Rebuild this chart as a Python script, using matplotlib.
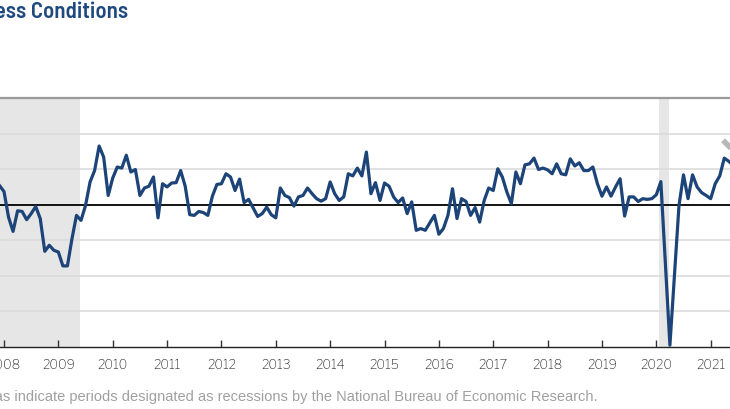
import numpy as np
import pandas as pd
import matplotlib
matplotlib.use("Agg")
import matplotlib.pyplot as plt

plt.rcParams['font.family'] = ['Liberation Sans', 'DejaVu Sans']

# monthly index, Dec 2007 .. Jun 2021
start_month = '2007-12-01'
values = [
    5.4, 3.7, -3.5, -7.5, -1.7, -1.9, -4.2, -2.5, -0.5, -3.9,
    -13.1, -11.4, -12.8, -13.3, -17.2, -17.2, -9.6, -3.0, -4.4, -0.2,
    6.4, 9.6, 16.5, 13.4, 2.6, 7.5, 10.6, 10.3, 13.9, 9.2,
    9.9, 2.6, 4.7, 5.2, 7.8, -3.7, 5.9, 5.0, 6.1, 6.2,
    9.6, 5.2, -2.8, -3.0, -1.9, -2.2, -3.0, 2.4, 5.7, 5.9,
    8.7, 7.8, 4.0, 7.2, 0.6, 1.5, -0.9, -3.3, -2.5, -0.7,
    -2.8, -3.7, 4.7, 2.6, 2.0, -0.4, 2.2, 2.6, 4.7, 3.1,
    1.7, 1.0, 1.7, 6.4, 3.1, 1.2, 2.2, 8.7, 8.1, 10.3,
    8.1, 14.8, 3.1, 6.2, 1.2, 6.1, 5.2, 2.2, 0.6, 1.9,
    -2.5, 0.8, -7.2, -6.7, -7.2, -5.1, -3.0, -8.3, -6.7, -3.0,
    4.5, -3.9, 1.7, 0.9, -3.0, -0.8, -4.9, 1.2, 4.7, 4.0,
    10.1, 7.8, 3.6, 0.3, 9.2, 5.9, 11.2, 11.5, 13.1, 9.9,
    10.3, 9.8, 8.7, 11.5, 8.7, 8.4, 12.9, 10.9, 11.8, 9.6,
    9.6, 10.6, 5.9, 2.4, 5.0, 2.4, 5.0, 7.3, -3.2, 2.2,
    2.2, 0.9, 1.7, 1.5, 1.7, 2.8, 6.5, -16.5, -39.5, -20.0,
    -0.3, 8.4, 1.7, 8.4, 5.0, 3.4, 2.6, 1.7, 5.9, 8.1,
    13.1, 12.2, 11.0,
]

# recessions (decimal years)
rec_start = [2007.5, 2020.055]
rec_end = [2009.40, 2020.235]

years = list(range(2008, 2022))
note = ('NOTE: Shaded areas indicate periods designated as recessions '
        'by the National Bureau of Economic Research.')

title_font = ['Barlow Semi Condensed', 'Barlow Condensed', 'Archivo Narrow',
              'Liberation Sans', 'DejaVu Sans']
tick_font = ['Libre Franklin', 'Archivo', 'Liberation Sans', 'DejaVu Sans']

dates = pd.date_range(start_month, periods=len(values), freq='MS')
x = dates.year + (dates.month - 1) / 12.0

fig = plt.figure(figsize=(7.3, 4.1), dpi=100)
ax = fig.add_axes([0, 1 - 348 / 410, 1, 249 / 410])

ax.set_xlim(2008 - 4 / 54.36, 2008 + 726 / 54.36)
ax.set_ylim(-40, 30)

for s, e in zip(rec_start, rec_end):
    ax.axvspan(s, e, color='#e6e6e6', lw=0, zorder=0)

for g in range(-30, 30, 10):
    if g != 0:
        ax.axhline(g, color='#dcdcdc', lw=1.2, zorder=1)
ax.axhline(0, color='black', lw=1.3, zorder=2)

ax.plot(x, values, color='#1d4478', lw=2.3, zorder=3, solid_joinstyle='round')

# grey pointer at the right edge
ax.plot([2021.227, 2021.42], [18.1, 15.2], color='#b8b8b8', lw=4,
        solid_capstyle='butt', zorder=4, clip_on=False)

ax.set_yticks([])
ax.set_xticks(years)
ax.set_xticklabels([str(y) for y in years], fontsize=9.3, color='#222222',
                   fontweight='semibold', family=tick_font)
ax.tick_params(axis='x', direction='in', length=5, width=1, pad=8, color='#333333')

for side in ['left', 'right']:
    ax.spines[side].set_visible(False)
ax.spines['top'].set_color('#9a9a9a')
ax.spines['top'].set_linewidth(1.6)
ax.spines['bottom'].set_color('#222222')
ax.spines['bottom'].set_linewidth(1.0)

fig.text(128 / 730, 1 - 12 / 410, 'Business Conditions', ha='right', va='center',
         fontsize=16.5, fontweight='semibold', color='#1f4a7f', family=title_font)
fig.text(598 / 730, 1 - 397 / 410, note, ha='right', va='center',
         fontsize=10.55, color='#a0a0a0')

fig.savefig('out.png', dpi=100)
